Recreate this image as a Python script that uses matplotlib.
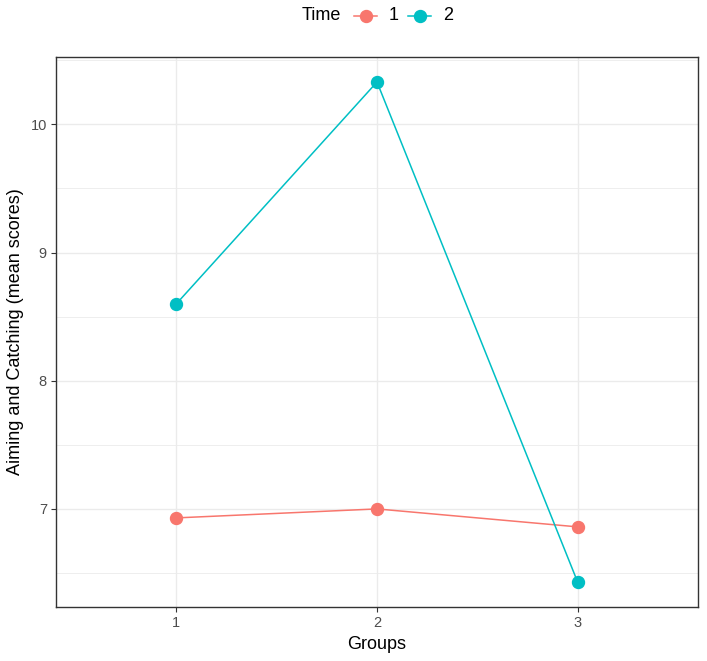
import matplotlib.pyplot as plt
from matplotlib.lines import Line2D
from matplotlib.ticker import MultipleLocator

plt.rcParams['font.family'] = ['Liberation Sans', 'DejaVu Sans']

groups = [1, 2, 3]
group_labels = ['1', '2', '3']
time1 = [6.93, 7.00, 6.86]
time2 = [8.60, 10.33, 6.43]
series_names = ['1', '2']
colors = ['#F8766D', '#00BFC4']

W, H = 707, 661
fig = plt.figure(figsize=(W / 100, H / 100), dpi=100)
ax = fig.add_axes([56 / W, (H - 607) / H, 642 / W, 550 / H])

for vals, col in zip([time1, time2], colors):
    ax.plot(groups, vals, color=col, lw=1.1, marker='o', ms=8.6, zorder=3)

# ggplot-like limits
ymin, ymax = min(time1 + time2), max(time1 + time2)
pad = 0.05 * (ymax - ymin)
ax.set_ylim(ymin - pad, ymax + pad)
ax.set_xlim(0.4, 3.6)

ax.set_xticks(groups)
ax.set_xticklabels(group_labels)
ax.yaxis.set_major_locator(MultipleLocator(1))
ax.yaxis.set_minor_locator(MultipleLocator(0.5))

ax.grid(True, which='major', color='#EBEBEB', lw=1.0, zorder=0)
ax.grid(True, which='minor', axis='y', color='#EBEBEB', lw=0.6, zorder=0)
ax.set_axisbelow(True)
ax.tick_params(which='minor', length=0)
ax.tick_params(which='major', length=3.5, width=0.8, color='#333333',
               labelsize=10.5, labelcolor='#4D4D4D', pad=3)
for s in ax.spines.values():
    s.set_color('#333333')
    s.set_linewidth(1.0)

ax.set_xlabel('Groups', fontsize=13, labelpad=4)
ax.set_ylabel('Aiming and Catching (mean scores)', fontsize=13, labelpad=5)

# legend on top, laid out by hand like ggplot's horizontal legend
ly = 1 - 16 / H
fig.text(302 / W, ly, 'Time', fontsize=13, va='center', ha='left')
key_x = [(354, 377), (408, 431)]
text_x = [389, 443]
for (x0, x1), tx, col, name in zip(key_x, text_x, colors, series_names):
    fig.add_artist(Line2D([x0 / W, x1 / W], [ly, ly], color=col, lw=1.1,
                          transform=fig.transFigure))
    fig.add_artist(Line2D([(x0 + x1) / 2 / W], [ly], color=col, marker='o',
                          ms=8.6, transform=fig.transFigure))
    fig.text(tx / W, ly, name, fontsize=13, va='center', ha='left')

fig.savefig('out.png', dpi=100)
